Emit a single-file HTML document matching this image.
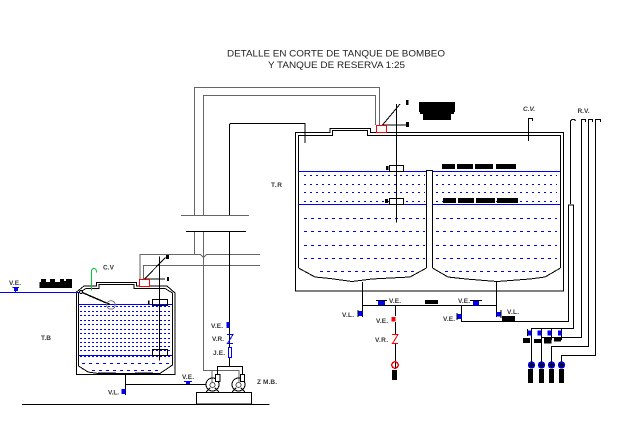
<!DOCTYPE html>
<html><head><meta charset="utf-8"><style>
html,body{margin:0;padding:0;background:#fff;}
svg{display:block;}
svg path,svg rect,svg circle{shape-rendering:crispEdges;}
text{font-family:"Liberation Sans",sans-serif;fill:#222;}
.l{font-size:6.5px;font-weight:bold;fill:#333;}
.k{fill:none;stroke:#000;stroke-width:1;}
.g{fill:none;stroke:#666;stroke-width:1;}
.b{fill:none;stroke:#00f;stroke-width:1;}
.r{fill:none;stroke:#f00;stroke-width:1;}
.d{stroke:#00f;stroke-width:1;stroke-dasharray:3 4;fill:none;}
.t{stroke:#00f;stroke-width:1;stroke-dasharray:2 4;fill:none;}
.s{stroke:#00f;stroke-width:1;stroke-dasharray:2 2;fill:none;}
</style></head><body>
<svg width="642" height="431" viewBox="0 0 642 431" xmlns="http://www.w3.org/2000/svg">
<rect width="642" height="431" fill="#fff"/>
<text x="227" y="56.5" font-size="9.5" textLength="218" lengthAdjust="spacingAndGlyphs">DETALLE EN CORTE DE TANQUE DE BOMBEO</text>
<text x="268" y="68" font-size="9.5" textLength="137" lengthAdjust="spacingAndGlyphs">Y TANQUE DE RESERVA 1:25</text>

<!-- gray pipes -->
<path class="g" d="M194.5 215V87.5H379.5V125M203.5 215V95.5H375.5V125"/>
<path class="g" d="M194.5 231V254M203.5 231V370.5H239V382M212 370.5V382"/>
<path class="g" d="M143.5 279V265.5H260M140 279V254.5H200.5L203.5 257.5L206.5 254.5H260"/>
<path class="g" d="M181 215.5H249"/>
<path class="k" d="M186 231.5H246"/>

<!-- black main pipe -->
<path class="k" d="M229.5 215V125Q229.5 123.5 231 123.5H305V143"/>
<path class="k" d="M229.5 231V347M229.5 357V366M217.5 375V366.5H242.5V375"/>

<!-- big tank -->
<path class="k" d="M295.5 291V132.5H330V128.5H370.5V132.5H563.5V291H295.5Z"/>
<path class="k" d="M298.5 268V135.5H332.5V130.5H367.5V135.5H560.5V268"/>
<path class="k" d="M426.5 268V170.5H432.5V268"/>
<path class="k" d="M298.5 268L315 277L330 278.5L352 281.5L372 279L410 277L426.5 268"/>
<path class="k" d="M432.5 268L448 277L466 279L497 281.5L530 279L545 277L560.5 268"/>
<path class="b" d="M298.5 171.5H426M433 171.5H560M298.5 204.5H426M433 204.5H560"/>
<path class="t" d="M304 175.5H425M436 175.5H557M304 184.5H425M436 184.5H557M304 192.5H425M436 192.5H557M304 201.5H425M436 201.5H557"/>
<path class="d" d="M304 218.5H425M436 218.5H557M304 231.5H425M436 231.5H557M304 245.5H425M436 245.5H557M304 258.5H425M436 258.5H557M320 271.5H415M445 271.5H550"/>
<path class="k" d="M396.5 104V222.5M382.5 125L400 104M382 125H407"/>
<rect x="389.5" y="165.5" width="14" height="6" fill="#fff" stroke="#000"/>
<rect x="389.5" y="198.5" width="14" height="6" fill="#fff" stroke="#000"/>
<path class="k" d="M396.5 160V222"/>
<rect x="376.5" y="125.5" width="10" height="7" fill="#fff" stroke="#f00"/>
<g fill="#000">
<rect x="406" y="100" width="2.5" height="5"/><rect x="406" y="122" width="3" height="5"/>
<rect x="386" y="166" width="2.5" height="4"/><rect x="385" y="199" width="3" height="4"/>
<rect x="419" y="102" width="36" height="10"/><rect x="420" y="110" width="34" height="4"/><rect x="423" y="114" width="28" height="6"/>
<rect x="442" y="164" width="13" height="5"/><rect x="457" y="164" width="16" height="5"/><rect x="475" y="164" width="18" height="5"/><rect x="496" y="164" width="20" height="5"/>
<rect x="443" y="198" width="13" height="5"/><rect x="458" y="198" width="16" height="5"/><rect x="476" y="198" width="19" height="5"/><rect x="497" y="198" width="21" height="5"/>
</g>
<path class="k" d="M528.5 141V118.5H532.5V121"/>
<!-- right vent lines -->
<path class="k" d="M570.5 204V121L572 119.5H574.5L575.5 121M581.5 329V119.5H585.5V122M588.5 337V119.5H592.5V122M595.5 346V119.5H600.5V122"/>
<rect x="568.5" y="204.5" width="5" height="1" fill="#000"/>
<path class="k" d="M568.5 204.5V321.5H461.5V305.5M573.5 204.5V328.5H531.5V365M581.5 205V337.5H541.5V365M588.5 205V346.5H551.5V365M595.5 205V355.5H561.5V365"/>
<path class="k" d="M541.5 328.5V340M551.5 328.5V340M561.5 328.5V340"/>

<!-- bottom pipes -->
<path class="k" d="M362.5 282V317M362.5 305.5H496.5M496.5 281V317M395.5 305.5V316M395.5 322V334M395.5 344V368"/>
<rect x="378" y="300.5" width="7" height="4.5" fill="#00f"/><path class="k" d="M376 300.5H387"/>
<rect x="425" y="300" width="13" height="4" fill="#000"/>
<rect x="473" y="301" width="6" height="4.5" fill="#00f"/><path class="k" d="M470 300.5H482"/>
<rect x="358.5" y="311" width="4" height="5" fill="#00f"/><path class="k" d="M358 310V317"/>
<rect x="457.5" y="314" width="4" height="5" fill="#00f"/><path class="k" d="M457 313V320"/>
<rect x="496.5" y="312" width="4.5" height="4.5" fill="#00f"/><path class="k" d="M501 310V318"/>
<rect x="502" y="316" width="13" height="5" fill="#000"/>
<rect x="391.5" y="317" width="4" height="4.5" fill="#f00"/>
<path class="r" d="M392 334.5H398L392.5 343.5H398"/>
<circle cx="395" cy="365" r="3.2" fill="none" stroke="#f00" stroke-width="1.5"/>
<rect x="392" y="370" width="5" height="10" fill="#000"/>
<g fill="#00f"><rect x="527.5" y="330.5" width="4" height="5"/><rect x="537.5" y="330.5" width="4" height="5"/><rect x="547.5" y="330.5" width="4" height="5"/><rect x="558" y="330.5" width="3.5" height="5"/></g>
<path class="k" d="M527.5 329V336"/>
<g fill="#000"><rect x="523" y="338" width="7" height="5"/><rect x="534" y="339" width="7" height="4"/><rect x="544" y="338" width="7.5" height="5.5"/><rect x="554" y="337" width="7" height="4.5"/>
<rect x="528" y="369" width="5" height="14"/><rect x="539" y="369" width="5" height="14"/><rect x="549" y="369" width="5" height="14"/><rect x="559" y="369" width="5" height="14"/></g>
<g fill="#003" stroke="#00f" stroke-width="1.3"><circle cx="531.5" cy="365" r="3"/><circle cx="541.5" cy="365" r="3"/><circle cx="551.5" cy="365" r="3"/><circle cx="561.5" cy="365" r="3"/></g>

<!-- small tank -->
<path class="k" d="M76.5 292V374.5H175V293L167 286H136.5V282.5H96.5V286H84Z"/>
<path class="k" d="M78.5 293V366L88 372L98 373.5H160L172.5 365V293L165 288.5H134V284.5H99V288.5H86Z"/>
<path d="M98 373.5H116M135 373.5H153" stroke="#000" stroke-width="1.6" fill="none"/>
<path class="b" d="M78.5 304.5H172M78.5 355.5H172"/>
<path class="s" d="M80 306.5H172M80 311.5H172M80 315.5H172M80 320.5H172M80 324.5H172M80 329.5H172M80 333.5H172M80 338.5H172M80 342.5H172M80 346.5H172M80 350.5H172"/>
<path class="s" d="M80 356.5H172"/>
<path class="d" d="M82 363.5H170M92 370.5H160"/>
<path class="b" d="M0 292.5H79"/>
<rect x="14" y="287" width="4" height="4" fill="#00f"/><path class="b" d="M12.5 287.5H19M15.5 291V292"/>
<path d="M39.5 288V282H41V279H46V282H50V279H55V282H60V279H64V281H66V279H72V288Z" fill="#000"/>
<path d="M81 292L110 304.5" stroke="#000" stroke-width="1.4" fill="none"/>
<circle cx="81" cy="292" r="1.4" fill="#fff" stroke="#000"/>
<circle cx="111" cy="305" r="4.3" fill="none" stroke="#777"/>
<path d="M91.5 290.5V271.5Q91.5 268.5 94 268.5Q96.5 268.5 96.5 272.5" fill="none" stroke="#0c3" stroke-width="1"/>
<rect x="152.5" y="299.5" width="15" height="6" fill="none" stroke="#000"/>
<rect x="152.5" y="349.5" width="15" height="6" fill="none" stroke="#000"/>
<path class="k" d="M159.5 256.5V360.5M144.5 279L165.5 257.5M144 279H165"/>
<rect x="139.5" y="279.5" width="10" height="7" fill="#fff" stroke="#f00"/>
<path class="k" d="M144.5 279L147 276.5"/>
<g fill="#000"><rect x="166" y="255" width="3" height="4"/><rect x="167" y="277" width="2" height="4"/><rect x="148" y="300.5" width="1.5" height="3.5"/></g>

<!-- bottom left -->
<path class="k" d="M125.5 374.5V395M125.5 384.5H206M22 404.5H269.5"/>
<rect x="121.5" y="389" width="4" height="5" fill="#00f"/>
<rect x="186" y="381" width="4" height="3" fill="#00f"/><path class="b" d="M184 381.5H192"/>
<!-- pumps -->
<rect x="196.5" y="392.5" width="55" height="11.5" fill="#fff" stroke="#000"/>
<circle cx="212.5" cy="384.5" r="6.5" fill="none" stroke="#000"/>
<circle cx="238.5" cy="384.5" r="6.5" fill="none" stroke="#000"/>
<circle cx="212.5" cy="385" r="2.5" fill="none" stroke="#555"/>
<circle cx="238.5" cy="385" r="2.5" fill="none" stroke="#555"/>
<path class="k" d="M206 392L210 388M219 392L215 388M232 392L236 388M245 392L241 388"/>
<rect x="215.5" y="374.5" width="4.5" height="7" fill="#fff" stroke="#000"/>
<rect x="240.5" y="374.5" width="4" height="7" fill="#fff" stroke="#000"/>
<rect x="226.5" y="322" width="3" height="6" fill="#00f"/>
<path class="b" d="M227 334.5H233L227.5 343.5H233"/>
<rect x="228.5" y="347.5" width="3.2" height="10" fill="#fff" stroke="#00f"/>

<!-- labels -->
<text class="l" x="523" y="111" font-style="italic" textLength="12">C.V.</text>
<text class="l" x="577.5" y="113" textLength="12">R.V.</text>
<text class="l" x="271" y="187" textLength="11">T.R</text>
<text class="l" x="41" y="340" textLength="10">T.B</text>
<text class="l" x="9" y="285" textLength="12">V.E.</text>
<text class="l" x="103" y="269.5" textLength="11">C.V</text>
<text class="l" x="108" y="394.5" textLength="11">V.L.</text>
<text class="l" x="182" y="379" textLength="12">V.E.</text>
<text class="l" x="211" y="328" textLength="12">V.E.</text>
<text class="l" x="212" y="341" textLength="12">V.R.</text>
<text class="l" x="213" y="355" textLength="12">J.E.</text>
<text class="l" x="257" y="384" textLength="20">Z M.B.</text>
<text class="l" x="389" y="303" textLength="12">V.E.</text>
<text class="l" x="342" y="317" textLength="12">V.L.</text>
<text class="l" x="376" y="323" textLength="12">V.E.</text>
<text class="l" x="375" y="342" textLength="13">V.R.</text>
<text class="l" x="458" y="303" textLength="12">V.E.</text>
<text class="l" x="443" y="321" textLength="12">V.E.</text>
<text class="l" x="507" y="314" textLength="12">V.L.</text>
</svg>
</body></html>
